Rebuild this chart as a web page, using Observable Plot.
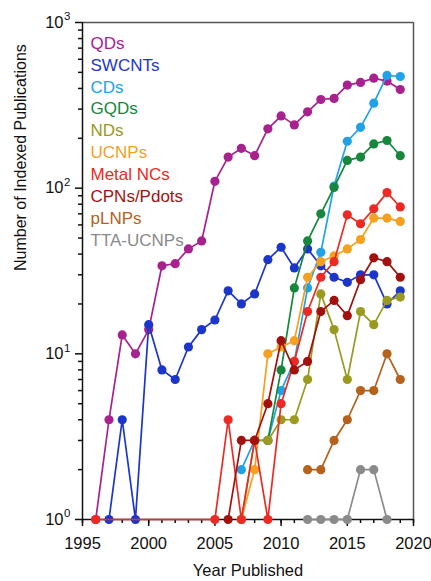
<!DOCTYPE html>
<html>
<head>
<meta charset="utf-8">
<script src="https://cdn.jsdelivr.net/npm/d3@7"></script>
<script src="https://cdn.jsdelivr.net/npm/@observablehq/plot@0.6"></script>
<style>
  html, body { margin: 0; padding: 0; background: #fff; }
</style>
</head>
<body>
<div id="chart"></div>
<script>
// Publication years, 1996–2019 (one entry per year; null = not plotted)
const years = [1996, 1997, 1998, 1999, 2000, 2001, 2002, 2003, 2004, 2005, 2006, 2007,
               2008, 2009, 2010, 2011, 2012, 2013, 2014, 2015, 2016, 2017, 2018, 2019];

// Number of indexed publications per nanomaterial class
const qds      = [1, 4, 13, 10, 14, 34, 35, 43, 48, 110, 154, 174, 157, 228, 273, 241, 289, 343, 348, 419, 435, 461, 443, 394];
const swcnts   = [null, 1, 4, 1, 15, 8, 7, 11, 14, 16, 24, 20, 23, 37, 44, 33, 43, 34, 29, 27, 30, 30, 20, 24];
const cds      = [null, null, null, null, null, null, null, null, null, null, null, 2, 3, 3, 6, 9, 25, 41, 103, 192, 233, 326, 479, 472];
const gqds     = [null, null, null, null, null, null, null, null, null, null, null, null, null, 3, 8, 25, 48, 70, 101, 147, 154, 185, 194, 157];
const nds      = [null, null, null, null, null, null, null, null, null, null, null, 1, 3, 3, 4, 4, 7, 23, 14, 7, 18, 15, 21, 22];
const ucnps    = [null, null, null, null, null, null, null, null, null, null, null, 1, 2, 10, 11, 12, 29, 36, 39, 43, 49, 66, 66, 63];
const metalNCs = [1, null, null, null, null, null, null, null, null, 1, 4, 1, 3, 1, 5, 9, 18, 29, 36, 69, 61, 75, 94, 77];
const cpns     = [null, null, null, null, null, null, null, null, null, null, 1, 3, 3, 5, 12, 8, 9, 18, 21, 17, 28, 38, 36, 29];
const plnps    = [null, null, null, null, null, null, null, null, null, null, null, null, null, null, null, null, 2, 2, 3, 4, 6, 6, 10, 7];
const ttaUcnps = [null, null, null, null, null, null, null, null, null, null, null, null, null, null, null, null, 1, 1, 1, 1, 2, 2, 1, null];

const seriesNames  = ["QDs", "SWCNTs", "CDs", "GQDs", "NDs", "UCNPs", "Metal NCs", "CPNs/Pdots", "pLNPs", "TTA-UCNPs"];
const seriesValues = [qds, swcnts, cds, gqds, nds, ucnps, metalNCs, cpns, plnps, ttaUcnps];
const seriesColors = ["#a8228f", "#1c36cc", "#22a2e6", "#16873c", "#9a9a20", "#f5a01e", "#ec2a23", "#a3110f", "#b4621c", "#8a8a8a"];

// Axis ticks
const xMajorTicks = [1995, 2000, 2005, 2010, 2015, 2020];
const xMinorTicks = d3.range(1995, 2021);
const yMajorTicks = [1, 10, 100, 1000];
const yExponents  = ["0", "1", "2", "3"];
const yMinorTicks = [2, 3, 4, 5, 6, 7, 8, 9, 20, 30, 40, 50, 60, 70, 80, 90, 200, 300, 400, 500, 600, 700, 800, 900];

// Long-format rows per series, skipping years without a value so each line is continuous
const series = seriesNames.map((name, i) => ({
  name,
  color: seriesColors[i],
  rows: years.map((year, j) => ({year, count: seriesValues[i][j]})).filter(d => d.count != null)
}));

const font = "'Liberation Sans', Arial, Helvetica, sans-serif";

const chart = Plot.plot({
  width: 431,
  height: 581,
  marginLeft: 82,
  marginRight: 18,
  marginTop: 22,
  marginBottom: 62,
  style: {fontFamily: font, fontSize: "16px", background: "#fff", color: "#111"},
  x: {domain: [1995, 2020]},
  y: {type: "log", domain: [1, 1000]},
  marks: [
    // box: grey top and right edges, black axes
    Plot.ruleY([1000], {stroke: "#555", strokeWidth: 1.5}),
    Plot.ruleX([2020], {stroke: "#555", strokeWidth: 1.5}),
    Plot.ruleY([1], {stroke: "#111", strokeWidth: 1.5}),
    Plot.ruleX([1995], {stroke: "#111", strokeWidth: 1.5}),

    Plot.axisX(xMinorTicks, {tickSize: 4, strokeWidth: 1.5, tickFormat: () => "", label: null}),
    Plot.axisX(xMajorTicks, {tickSize: 7, strokeWidth: 1.5, tickPadding: 11, fontSize: 16.5, tickFormat: d => String(d), label: null}),
    Plot.axisY(yMinorTicks, {tickSize: 4, strokeWidth: 1.5, tickFormat: () => "", label: null}),
    Plot.axisY(yMajorTicks, {tickSize: 7, strokeWidth: 1.5, tickFormat: () => "", label: null}),

    // y tick labels as 10 with a raised exponent
    Plot.text(yMajorTicks, {y: d => d, text: () => "10", frameAnchor: "left", textAnchor: "end", dx: -19, fontSize: 16.5, fill: "#111"}),
    Plot.text(yMajorTicks, {y: d => d, text: (d, i) => yExponents[i], frameAnchor: "left", textAnchor: "start", dx: -18.5, dy: -6, fontSize: 11.5, fill: "#111"}),

    // one line + dots per series, later series drawn on top
    ...series.flatMap(s => [
      Plot.line(s.rows, {x: "year", y: "count", stroke: s.color, strokeWidth: 1.7}),
      Plot.dot(s.rows, {x: "year", y: "count", fill: s.color, r: 4.6})
    ]),

    // legend in the top-left corner
    ...series.map((s, i) => Plot.text([s.name], {
      text: d => d, frameAnchor: "top-left", textAnchor: "start",
      dx: 8, dy: 14.3 + i * 21.85, fontSize: 17, fill: s.color
    })),

    // axis titles
    Plot.text(["Year Published"], {text: d => d, frameAnchor: "bottom", dy: 56, fontSize: 16.5, fill: "#111"}),
    Plot.text(["Number of Indexed Publications"], {text: d => d, frameAnchor: "left", rotate: -90, dx: -62, fontSize: 16, fill: "#111"})
  ]
});

document.getElementById("chart").append(chart);
</script>
</body>
</html>
